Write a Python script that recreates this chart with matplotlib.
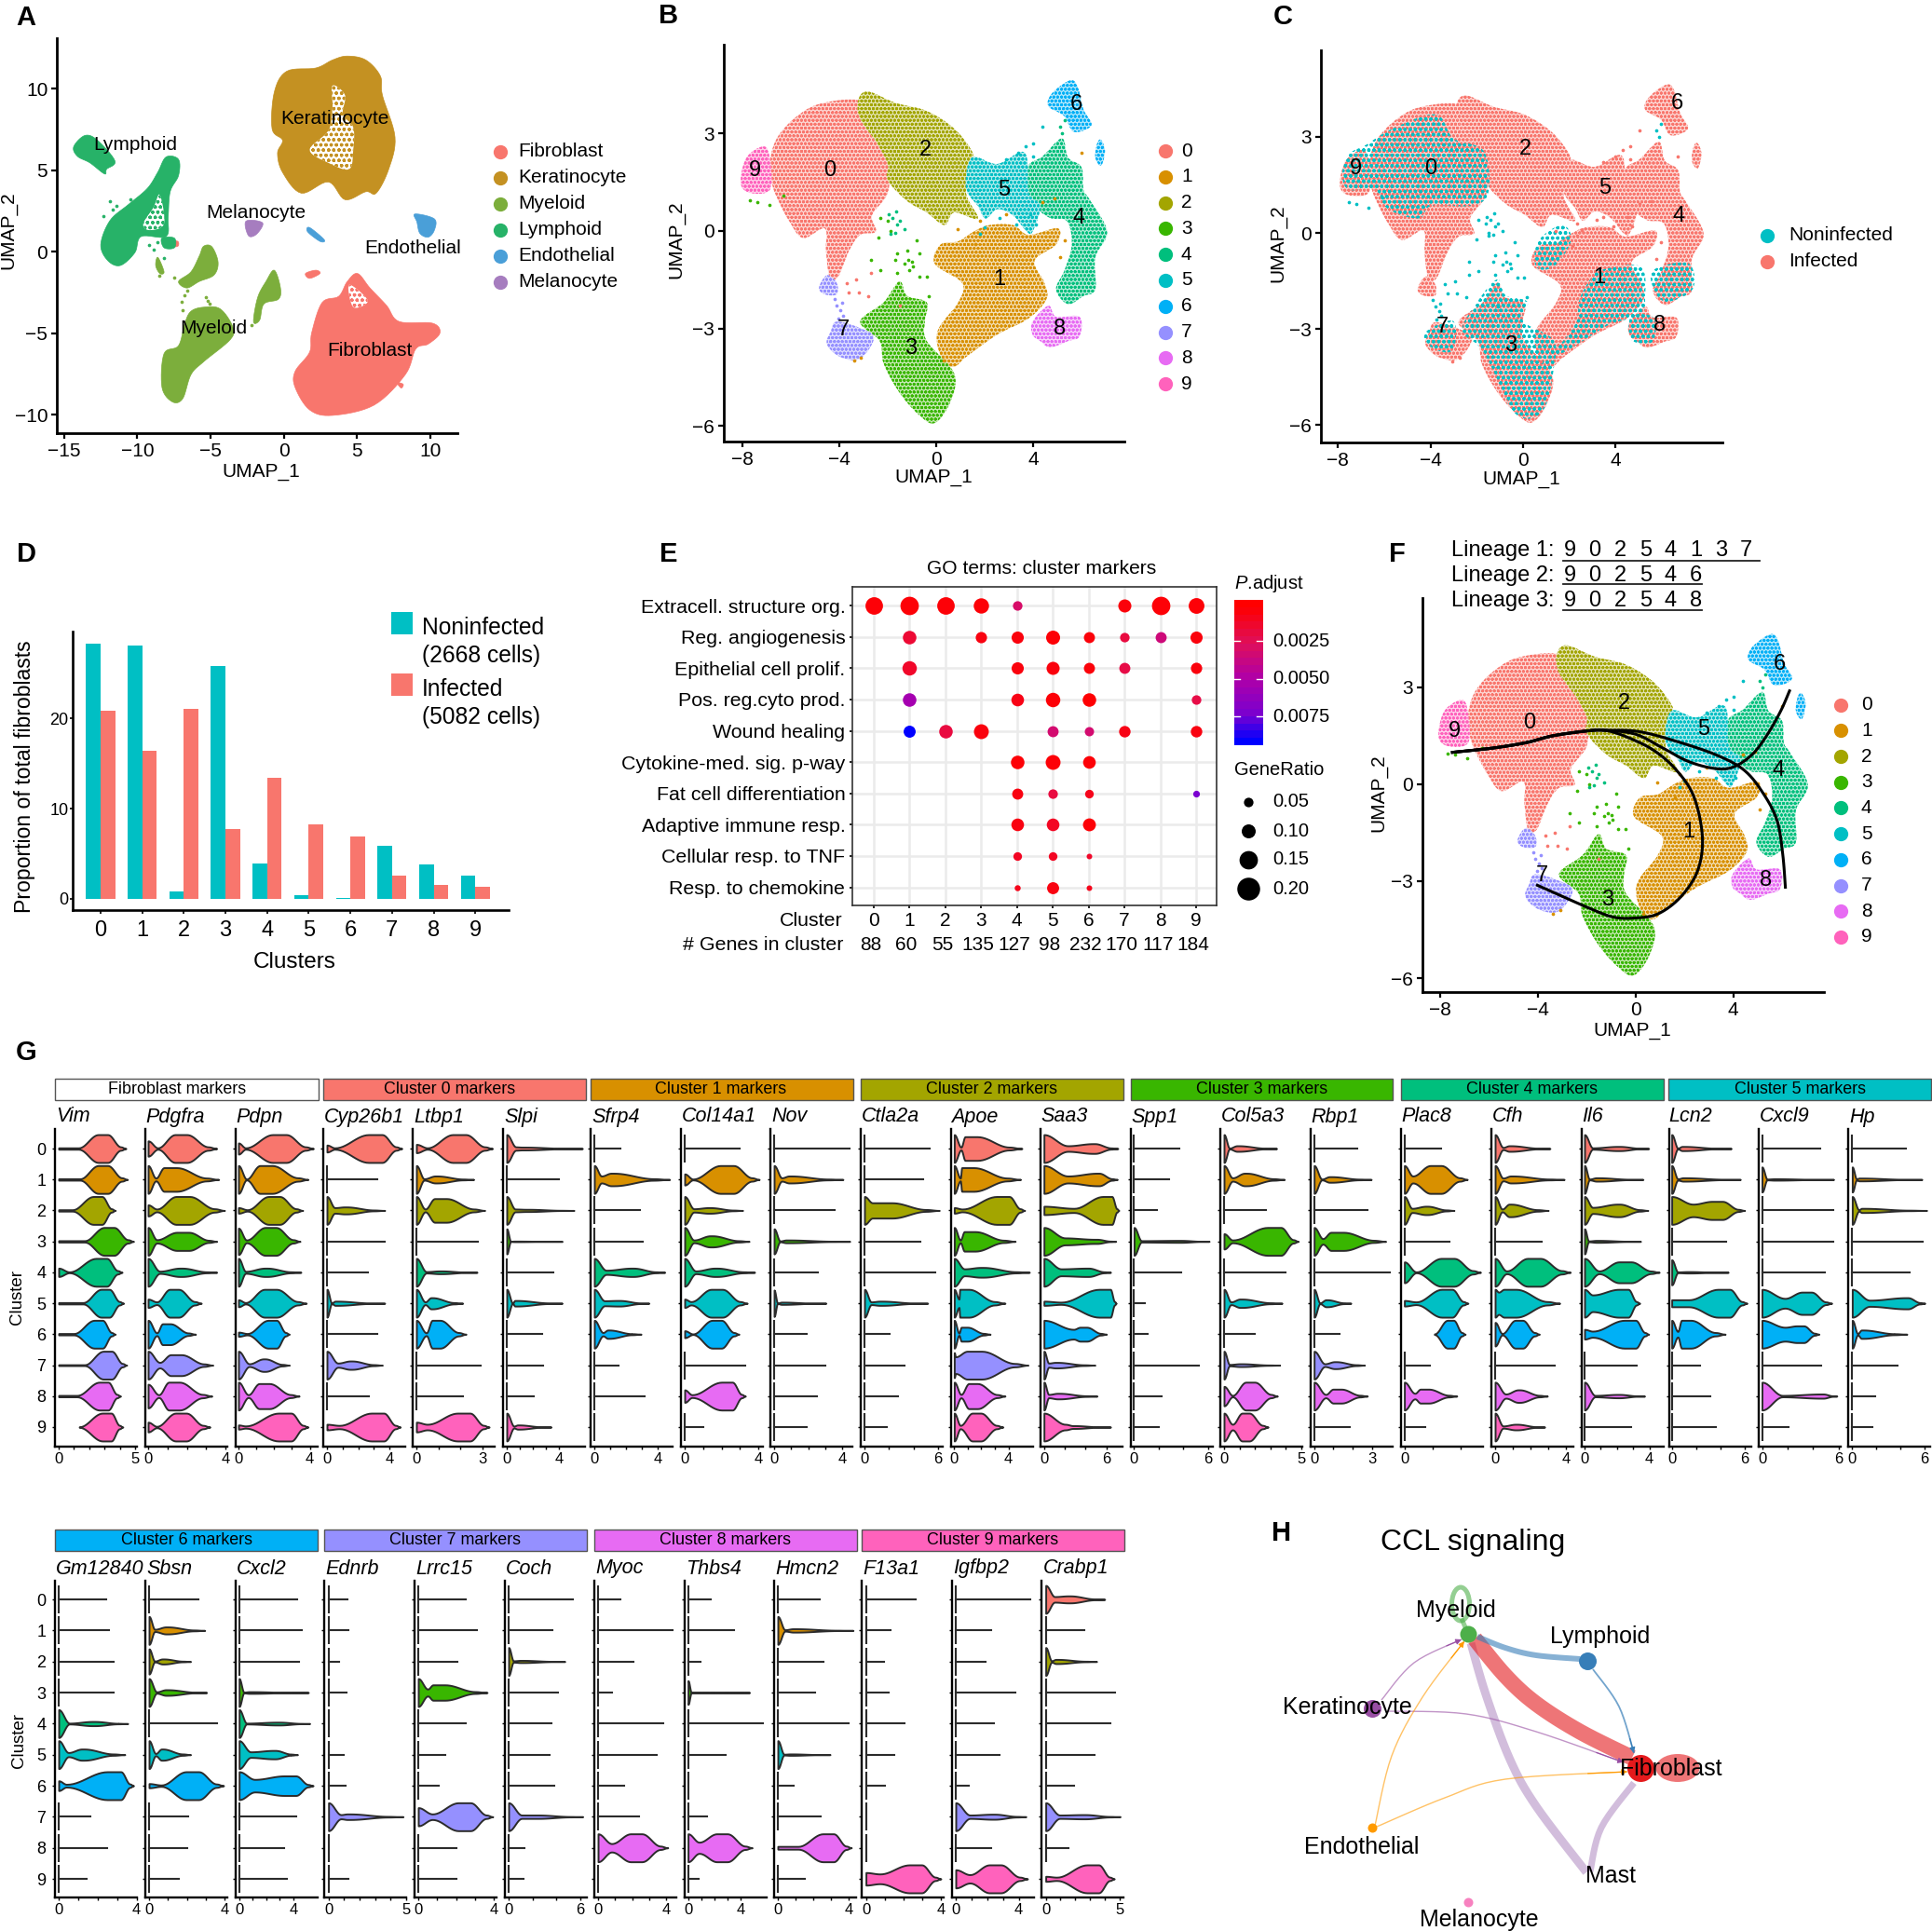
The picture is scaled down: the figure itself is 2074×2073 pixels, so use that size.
import numpy as np
import matplotlib
matplotlib.use("Agg")
import matplotlib.pyplot as plt
from matplotlib.colors import LinearSegmentedColormap, Normalize, to_rgb
from matplotlib.patches import Polygon, Rectangle, Ellipse

plt.rcParams['font.family'] = ['Liberation Sans', 'DejaVu Sans']
plt.rcParams['mathtext.fontset'] = 'custom'
plt.rcParams['mathtext.it'] = 'Liberation Sans:italic'
plt.rcParams['mathtext.rm'] = 'Liberation Sans'
plt.rcParams['hatch.linewidth'] = 1.0

W, H = 2074, 2073

HUE = ['#F8766D', '#D89000', '#A3A500', '#39B600', '#00BF7D',
       '#00BFC4', '#00B0F6', '#9590FF', '#E76BF3', '#FF62BC']
TEAL, SALMON = '#00BFC4', '#F8766D'

# panel A: outlines of the cell types on the UMAP
celltypes = ['Fibroblast', 'Keratinocyte', 'Myeloid', 'Lymphoid', 'Endothelial', 'Melanocyte']
celltype_cols = ['#F8766D', '#C49122', '#7CAE3C', '#27B268', '#4A9FD8', '#A67DBF']
fibroblast_a = [
    [(5.03,-1.34),(5.88,-2.23),(7.02,-3.31),(7.87,-4.29),(10.14,-4.39),(10.66,-4.99),(9.86,-5.67),(9.01,-5.97),
     (8.3,-7.54),(6.16,-9.42),(3.32,-10.05),(1.76,-9.71),(.77,-8.33),(.77,-7.35),(1.76,-6.17),(1.9,-4.99),
     (2.61,-3.13),(3.75,-2.74),(4.32,-1.85)],
    [(1.48,-1.34),(2.19,-1.14),(2.47,-1.34),(1.76,-1.64)],
    [(7.73,-8.04),(8.15,-8.14),(8.01,-8.37)],
    [(-7.76,.63),(-7.24,.63),(-7.24,.33),(-7.76,.33)]]
keratinocyte_a = [
    [(4.32,12.0),(5.6,11.76),(6.59,10.78),(6.73,9.6),(7.59,7.03),(7.16,5.06),(6.31,3.59),(5.6,3.68),(4.18,3.19),
     (3.04,4.28),(1.19,3.59),(-.09,4.87),(-.43,6.05),(-.09,6.84),(-.8,7.53),(-.65,9.79),(.2,11.07),(2.19,11.27),
     (3.32,11.76)]]
myeloid_a = [
    [(-5.48,-3.41),(-4.35,-3.51),(-3.5,-4.59),(-3.64,-5.38),(-5.48,-6.76),(-6.34,-7.55),(-6.9,-9.02),(-7.61,-9.22),
     (-8.32,-8.33),(-8.18,-6.26),(-7.19,-5.77),(-6.76,-4.39),(-6.34,-3.66)],
    [(-.65,-1.14),(-.23,-2.23),(-.37,-2.92),(-1.36,-3.21),(-1.65,-4.2),(-2.07,-4.3),(-1.79,-2.82),(-1.22,-1.83)],
    [(-5.48,.33),(-4.91,.3),(-4.49,-.65),(-4.77,-1.44),(-5.77,-1.83),(-6.62,-2.23),(-7.19,-1.83),(-6.34,-1.24),(-5.77,-.26)],
    [(-8.6,-.35),(-8.18,-1.24),(-8.47,-1.34),(-8.75,-.85)]]
lymphoid_a = [
    [(-13.58,7.13),(-12.73,6.84),(-11.53,5.56),(-12.1,5.06),(-12.24,4.77),(-13.24,5.45),(-14.09,5.85),(-14.35,6.44)],
    [(-8.04,5.81),(-7.19,5.66),(-7.19,4.67),(-7.76,3.68),(-7.9,2.12),(-8.04,.93),(-9.74,.93),(-10.17,-.06),
     (-11.16,-.85),(-12.02,-.55),(-12.5,.43),(-11.87,1.91),(-10.6,2.9),(-9.32,3.88),(-8.61,4.87)],
    [(-8.33,.83),(-7.47,.83),(-7.47,.24),(-8.18,.24)]]
endothelial_a = [
    [(8.95,2.31),(10.28,2.01),(10.28,1.32),(9.86,.89),(9.29,1.12),(9.09,1.81)],
    [(1.76,1.48),(2.76,.73),(2.47,.63),(1.62,1.22)]]
melanocyte_a = [[(-2.59,1.87),(-1.45,1.77),(-1.85,1.08),(-2.41,.97)]]
holes_a = [
    [(3.32,10.19),(4.18,9.6),(4.03,8.42),(4.74,7.63),(4.74,6.25),(4.46,5.06),(3.04,5.45),(1.76,6.25),(3.04,7.43),(3.32,8.8)],
    [(-8.47,3.49),(-8.18,1.71),(-9.18,1.32),(-9.6,1.71),(-8.9,2.71)],
    [(4.46,-2.03),(5.74,-3.01),(4.74,-3.41)]]
hole_owner_a = [1, 3, 0]
labels_a = [('Fibroblast',5.88,-6.07),('Keratinocyte',3.47,8.18),('Myeloid',-4.77,-4.69),
            ('Lymphoid',-10.17,6.58),('Endothelial',8.78,.18),('Melanocyte',-1.88,2.4)]
myeloid_dots_a = [(-6.6,-2.4),(-6.8,-2.7),(-7,-3.1),(-5.3,-2.8),(-5.2,-3.0),(-6.9,-3.6),(-5.1,-3.2),(-2.2,-4.5),(-8.5,-1.5),(-7.5,-1.6)]
lymphoid_dots_a = [(-11.9,3.1),(-11.7,2.6),(-11.4,2.8),(-11,2.4),(-10.5,3.2),(-12.3,2.2),(-9.2,.4),(-8.9,.1),(-8.2,-.4),(-8.6,.6)]

# panels B, C, F: outlines of the fibroblast clusters on the UMAP
cluster0 = [[(-3.22,4.02),(-4.76,3.92),(-5.73,3.54),(-6.54,2.9),(-6.86,2.16),(-6.78,1.47),(-6.54,.97),(-6.05,.28),
             (-5.49,-.22),(-4.6,.08),(-4.55,-.61),(-4.4,-1.41),(-4.05,-1.41),(-3.6,-.61),(-3.14,-.12),(-2.49,-.02),(-2.65,.48),
             (-2.0,1.17),(-2.0,2.06),(-2.49,2.75),(-3.14,3.45)]]
cluster1 = [[(2.2,.18),(3.17,.18),(3.82,-.12),(5.03,.08),(4.95,-.42),(4.06,-.91),(4.47,-1.6),(4.55,-2.1),(3.82,-2.69),
             (2.52,-3.19),(1.23,-3.88),(.74,-4.18),(.26,-3.98),(.05,-3.1),(.91,-2.2),(1.07,-1.6),(-.06,-1.01),
             (.18,-.42),(.91,-.32),(1.55,-.02)]]
cluster2 = [[(-2.82,4.29),(-1.68,3.94),(-.39,3.69),(.74,3.15),(1.47,2.46),(1.47,2.16),(1.23,1.17),(1.72,.38),(.74,.57),
             (.34,.18),(-.39,.57),(-1.2,.92),(-2.0,1.56),(-2,2.06),(-2.49,2.75),(-3.14,3.45),(-3.22,4.02)]]
cluster3 = [[(-1.52,-1.55),(-1.2,-2.0),(-.39,-2.2),(-.47,-2.79),(-.39,-3.39),(.74,-4.38),(.58,-5.27),(-.06,-5.91),
             (-.71,-5.66),(-1.52,-4.97),(-2.17,-4.08),(-2.33,-3.39),(-3.14,-2.79),(-2.17,-2.2)]]
cluster4 = [[(5.19,2.85),(5.44,2.26),(6.0,1.96),(6.08,1.27),(6.33,.97),(7.06,-.02),(6.57,-.81),(6.57,-1.8),(6.08,-2.0),
             (5.44,-2.25),(4.95,-1.8),(5.3,-1.21),(5.6,-.42),(5.4,.3),(4.7,.4),(4.1,.75),(3.75,1.3),(3.8,2.0),(4.4,2.3)]]
cluster5 = [[(1.47,2.26),(2.52,2.06),(3.66,2.41),(3.82,1.17),(4.3,.77),(3.98,-.02),(3.74,-.02),(3.17,.48),(2.52,.67),
             (2.04,.38),(1.72,.77),(1.23,1.32)]]
cluster6 = [[(5.52,4.63),(5.84,4.44),(6.08,3.74),(6.41,3.25),(5.68,3.05),(5.28,3.54),(4.63,3.84),(4.79,4.24)],
            [(6.81,2.8),(6.97,2.46),(6.81,2.01),(6.57,2.26),(6.65,2.7)]]
cluster7 = [[(-4.51,-1.36),(-4.11,-1.6),(-4.11,-1.95),(-4.6,-1.95),(-4.84,-1.75)],
            [(-4.11,-2.79),(-3.14,-2.99),(-2.57,-3.29),(-3.14,-3.93),(-3.95,-3.88),(-4.51,-3.49),(-4.35,-3.09)]]
cluster8 = [[(4.63,-2.3),(4.95,-2.64),(5.92,-2.64),(5.92,-3.24),(5.44,-3.39),(4.71,-3.58),(4.3,-3.39),(3.98,-3.19),(3.98,-2.79)]]
cluster9 = [[(-7.1,2.6),(-6.86,2.16),(-6.86,1.27),(-7.67,1.17),(-8.07,1.47),(-7.83,2.26)]]
clusters = [cluster0, cluster1, cluster2, cluster3, cluster4, cluster5, cluster6, cluster7, cluster8, cluster9]

# scattered single cells between the clusters
sparse_green = [(-2.3,.4),(-2.0,.3),(-1.9,.0),(-2.4,-.2),(-1.6,-.7),(-1.2,-.6),(-.8,-.3),(-.7,-.7),(-1.3,-1.0),(-1.1,-1.2),
                (-.95,-1.1),(-.7,-1.4),(-1.6,-1.3),(-2.3,-1.2),(-2.7,-.9),(-1.0,-.95),(-.4,-1.4),(-.3,-2.0),(-1.7,-.9),
                (-1.15,-.9),(-7.7,.95),(-7.4,.9),(-6.9,.8),(-6.3,1.1)]
sparse_mint = [(-1.8,.4),(-1.6,.2),(-1.7,-.05),(-1.9,-.1),(-1.5,.3),(-1.65,.6),(-1.95,.5),(-1.3,.05),(5.1,3.2),(5.3,3.4),(5.2,3.0)]
sparse_teal = [(2.9,2.2),(3.4,2.4),(4.0,2.7),(4.4,3.2),(4.0,2.3),(3.7,2.6),(3.9,.5),(4.1,.2),(2.0,.1),(1.8,-.1),(2.6,.4),(3.3,.2)]
sparse_orange = [(.3,-4.0),(1.6,-.4),(4.9,1.0),(4.4,.9),(6.0,2.4),(-3.4,-4.0),(-3.1,-3.9),(5.1,-.8),(5.3,-.3),(.9,.05),(1.8,.3),(2.9,.5)]
sparse_salmon = [(-3.6,-1.9),(-3.2,-1.9),(-2.8,-2.0),(-3.7,-1.6),(-1.5,-2.3),(-3.3,-1.5),(-2.7,-1.3)]
sparse_violet = [(-4.2,-2.1),(-4.1,-2.3),(-3.95,-2.45),(-3.85,-2.6),(-3.9,-2.2),(-4.05,-2.7)]

labels_b = [(-4.4,1.85),(2.6,-1.5),(-.45,2.5),(-1.05,-3.6),(5.9,.4),(2.8,1.27),(5.8,3.9),(-3.85,-3.05),(5.1,-3.0),(-7.5,1.85)]
labels_c = [(-3.99,2.0),(3.29,-1.4),(.09,2.63),(-.53,-3.53),(6.73,.53),(3.53,1.4),(6.64,4.03),(-3.49,-2.93),(5.89,-2.87),(-7.21,2.0)]
labels_f = [(-4.37,1.88),(2.16,-1.49),(-.46,2.5),(-1.16,-3.58),(5.87,.41),(2.78,1.7),(5.9,3.7),(-3.83,-2.83),(5.33,-2.98),(-7.42,1.64)]

# panel C: where the noninfected cells sit
noninf_zones = [
    [(-6.78,2.75),(-5.65,3.25),(-3.77,3.7),(-3.01,2.95),(-1.69,2.55),(-1.5,1.25),(-2.26,.85),(-3.95,.85),(-4.52,.45),
     (-5.84,.75),(-6.4,1.35),(-7.53,1.35),(-7.81,1.85),(-7.53,2.45)],
    [(3.39,-1.15),(5.08,-1.05),(5.27,-2.05),(5.08,-2.55),(3.76,-2.85),(2.63,-3.35),(1.69,-3.75),(1.32,-3.75),(2.26,-2.85),
     (2.45,-2.05),(3.0,-1.35)],
    [(4.7,-2.55),(5.64,-2.65),(5.64,-3.35),(5.08,-3.45),(4.61,-3.25)],
    [(5.64,-1.15),(7.14,-.95),(7.33,-1.75),(6.2,-2.15),(5.64,-1.75)],
    [(-1.13,-1.45),(-.75,-1.95),(.19,-2.15),(0,-2.75),(1.32,-3.35),(1.32,-4.25),(.94,-5.45),(.19,-5.8),(-.56,-5.45),
     (-1.32,-4.25),(-1.88,-3.55),(-2.63,-3.05),(-2.07,-2.25)],
    [(-4.14,-3.05),(-3.01,-2.75),(-3.01,-3.65),(-3.77,-3.65),(-4.23,-3.35)],
    [(.66,-.25),(1.69,.25),(2.07,-.25),(1.32,-1.05),(.56,-1.05)]]

# panel D
bar_clusters = list(range(10))
noninfected = [28.3, 28.1, 0.8, 25.8, 3.9, 0.4, 0.05, 5.9, 3.8, 2.6]
infected = [20.8, 16.4, 21.0, 7.7, 13.4, 8.2, 6.9, 2.6, 1.5, 1.3]

# panel E, columns are the clusters 0 to 9
go_terms = ['Extracell. structure org.', 'Reg. angiogenesis', 'Epithelial cell prolif.', 'Pos. reg.cyto prod.',
            'Wound healing', 'Cytokine-med. sig. p-way', 'Fat cell differentiation', 'Adaptive immune resp.',
            'Cellular resp. to TNF', 'Resp. to chemokine']
genes_in_cluster = [88, 60, 55, 135, 127, 98, 232, 170, 117, 184]
n = None
gene_ratio = [
    [.14, .15, .14, .115, .05, n, n, .09, .15, .12],
    [n, .095, n, .07, .08, .10, .067, .05, .067, .08],
    [n, .105, n, n, .08, .09, .067, .067, n, .07],
    [n, .095, n, n, .085, .105, .095, n, n, .05],
    [n, .078, .095, .11, n, .067, .047, .072, n, .072],
    [n, n, n, n, .095, .11, .085, n, n, n],
    [n, n, n, n, .067, .05, .04, n, n, .018],
    [n, n, n, n, .085, .085, .088, n, n, n],
    [n, n, n, n, .04, .04, .005, n, n, n],
    [n, n, n, n, .01, .078, .005, n, n, n]]
p_adjust = [
    [.0002, .0002, .0002, .0002, .003, n, n, .0003, .0002, .0002],
    [n, .0015, n, .0005, .0004, .0002, .0003, .0018, .0035, .0004],
    [n, .0012, n, n, .0004, .0004, .0003, .002, n, .0004],
    [n, .0055, n, n, .0006, .0002, .0001, n, n, .002],
    [n, .0094, .0018, .0004, n, .0032, .0032, .0006, n, .0005],
    [n, n, n, n, .0002, .0002, .0002, n, n, n],
    [n, n, n, n, .0005, .0018, .0008, n, n, .0075],
    [n, n, n, n, .0005, .001, .0002, n, n, n],
    [n, n, n, n, .001, .001, .0012, n, n, n],
    [n, n, n, n, .0008, .0005, .0008, n, n, n]]
ratio_legend = [0.05, 0.10, 0.15, 0.20]

# panel F: the three lineages
lineage_stem = [(-7.5,.98),(-5.87,1.11),(-4.48,1.28),(-3.4,1.49),(-2.01,1.64),(-1.24,1.66)]
lineage1 = [(-.31,1.44),(.77,1.03),(1.7,.41),(2.4,-.41),(2.74,-1.64),(2.55,-2.67),(1.85,-3.49),(.93,-4.01),(0,-4.14),
            (-.93,-4.11),(-2.01,-3.8),(-3.09,-3.44),(-4.02,-3.13)]
lineage2 = [(0,1.54),(1.08,1.13),(2.16,.7),(3.25,.48),(4.02,.53),(4.79,.92),(5.41,1.54),(5.95,2.26),(6.31,2.88)]
lineage3 = [(.15,1.62),(1.85,1.28),(3.4,.87),(4.48,.41),(5.25,-.31),(5.8,-1.13),(6.03,-2.16),(6.14,-3.19)]
lineage_orders = [['9','0','2','5','4','1','3','7'], ['9','0','2','5','4','6'], ['9','0','2','5','4','8']]

# panel G. One entry per cluster: a plain number is a violin that is only a line up to that value;
# a tuple is (end, height at 0, valley x, valley height, peak x, peak height[, start x])
Vim = [(4.4,.05,1.3,.05,2.9,1),(4.5,.05,1.4,.05,2.9,1),(3.7,.05,.9,.05,2.55,1),(4.9,.05,1.7,.05,3.3,1),(4.15,.3,.7,.03,2.8,1),
       (4.25,.05,1.6,.05,3.05,1),(3.7,.05,1.0,.05,2.6,1),(4.45,.03,1.7,.03,3.2,1),(4.05,.05,1.2,.05,2.95,1),(4.2,.1,1.35,.1,3.15,1,1.35)]
Pdgfra = [(3.55,.55,.5,.05,1.7,1),(3.65,1,.4,.1,1.15,.85),(3.95,.4,.45,.1,1.8,1),(3.55,1,.45,.12,1.8,.65),(3.55,1,.6,.08,1.7,.3),
          (2.75,.3,.45,.1,1.35,1),(2.45,1,.45,.1,.95,.75),(3.35,1,.6,.2,1.45,.75),(3.3,.85,.55,.1,1.35,1),(3.2,.35,.45,.05,1.7,1)]
Pdpn = [(4.2,.4,.4,.05,2.3,1),(3.9,1,.45,.03,1.55,1),(3.6,.2,.5,.05,2.0,1),(3.45,.95,.45,.1,1.8,1),(3.5,1,.4,.07,1.55,.3),
        (3.8,.25,.4,.05,1.8,1),(2.85,.15,.5,.05,1.9,1),(2.85,1,.6,.1,1.45,.45),(3.4,1,.55,.1,1.45,.9),(3.9,.15,.4,.08,2.6,1)]
Cyp26b1 = [(4.8,.25,.5,.05,3.1,1),3.2,(3.7,1,.5,.2,1.2,.25),3.7,2.6,(3.7,1,.3,.03,.6,.15),3.25,(3.55,1,.7,.15,1.55,.3),2.7,(4.7,.2,.8,.12,3.25,1)]
Ltbp1 = [(3.45,.3,.5,.05,1.95,1),(2.6,1,.35,.05,.9,.25),(3.1,1,.4,.1,1.1,.85),2.8,(2.75,1,.45,.05,1.1,.1),(2.1,1,.4,.1,.7,.4),
         (2.25,1,.45,.1,.9,1),2.9,2.1,(3.3,.35,.5,.2,2.15,1)]
Slpi = [(5.8,1,.7,.12,1.3,.1),4.0,(5.15,1,.65,.1,1.6,.08),(4.25,.9,.3,.01,.7,.02),3.6,(4.25,1,.45,.02,.7,.2),2.7,2.75,2.1,(3.4,1,.55,.07,.9,.15)]
Sfrp4 = [1.65,(4.75,1,.45,.25,1.15,.45),2.9,3.05,(4.45,1,.75,.15,2.4,.3),(3.45,1,.65,.18,1.55,.2),(2.95,1,.55,.12,.9,.3),1.55,3.2,0]
Col14a1 = [3.0,(4.05,.4,.45,.03,2.3,1),(3.15,1,.5,.12,1.35,.2),(3.5,1,.5,.1,1.45,.4),(3.8,1,.6,.1,1.7,.3),(3.4,.3,.35,.12,1.75,1),
           (2.95,.25,.45,.02,1.75,1),3.3,(3.3,.45,.4,.1,2.3,1),1.0]
Nov = [4.45,(4.05,1,.45,.12,.95,.25),3.55,(4.45,.9,.35,.03,.8,.1),2.55,(3.05,.95,.2,.02,.5,.08),1.9,3.0,2.5,1.9]
Ctla2a = [5.3,4.75,(6.1,1,.65,.55,1.7,.55),4.55,5.8,(5.15,1,.55,.1,1.35,.15),2.05,3.3,2.75,1.85]
Apoe = [(5.0,1,.5,.1,1.25,.85),(4.9,1,.45,.1,1.0,.85),(5.2,.2,.6,.1,3.6,1),(4.5,1,.45,.1,1.15,.7),(5.55,1,.75,.25,2.05,.35),
        (3.75,1,.35,.3,.75,1),(2.65,1,.35,.08,.75,.5),(5.45,.9,.1,.6,1.5,1),(3.75,1,.5,.12,1.4,.9),(3.6,1,.45,.12,1.65,1)]
Saa3 = [(7.1,1,2.3,.2,4.8,.35),(7.05,1,2.3,.25,5.2,.45),(7.2,.3,2.9,.15,6.1,1),(6.9,1,2.05,.25,5.0,.15),(6.4,1,1.65,.25,4.2,.3),
        (6.95,.15,1.65,.08,5.85,1),(6.0,1,2.85,.35,3.8,.5),(4.9,1,.45,.15,1.2,.2),(5.1,1,.45,.12,1.4,.2),(6.4,1,2.05,.2,2.9,.1)]
Spp1 = [3.7,2.85,1.85,(6.1,1,.6,.05,3.7,.07),3.85,.9,1.1,5.25,2.25,2.05]
Col5a3 = [(3.4,1,.35,.03,.9,.2),(3.9,1,.55,.12,1.4,.45),2.7,(4.8,.55,.55,.1,3.25,1),3.95,(3.75,1,.45,.1,1.1,.3),2.0,
          (3.6,1,.35,.05,1.1,.1),(3.45,.7,.55,.05,1.7,1),(2.85,1,.55,.2,1.4,1)]
Rbp1 = [2.25,(2.95,1,.4,.03,.85,.2),2.75,(3.7,1,.45,.2,1.2,.65),3.9,(1.9,1,.3,.03,.65,.25),1.3,(2.6,1,.55,.1,1.1,.25),(2.75,1,.6,.12,1.2,.5),1.85]
Plac8 = [2.65,(4.5,1,.6,.25,2.25,1),(3.55,1,.55,.15,1.6,.3),3.25,(5.45,.75,.85,.03,3.1,1),(4.55,.2,.85,.1,3.05,1),(4.35,.1,2.15,.1,3.3,1,2.15),
         1.85,(3.75,1,.75,.2,1.45,.5),1.5]
Cfh = [(3.1,1,.45,.08,.85,.2),(3.9,1,.45,.1,.95,.25),(3.0,1,.4,.1,.85,.45),2.65,(4.25,1,.65,.1,2.2,1),(3.65,1,.2,.8,.85,1),
       (2.5,.85,.4,.05,1.35,1),3.35,(2.95,1,.6,.15,1.35,.45),(2.8,1,.45,.08,1.2,.2)]
Il6 = [(3.95,1,.5,.05,2.1,.15),(3.6,1,.3,.03,.8,.12),(3.9,1,.5,.22,2.1,.45),(3.45,.9,.25,.03,.8,.07),(4.6,1,.9,.1,2.5,.75),
       (3.4,1,.5,.6,2.4,1),(3.95,.35,.5,.22,2.8,1),3.2,(3.7,1,.65,.05,2.1,.12),2.85]
Lcn2 = [(4.9,1,.5,.03,.95,.15),(5.65,1,.5,.05,1.05,.12),(6.0,1,1.75,.45,3.75,.65),4.5,(4.65,.9,.5,.03,1.4,.05),(6.2,.25,1.4,.25,4.3,1),
        (4.4,1,.5,.2,1.2,1),2.35,3.2,3.6]
Cxcl9 = [4.55,(5.6,.9,.4,.03,1.1,.05),5.55,5.6,4.9,(5.45,1,1.8,.35,3.5,.8),(4.45,1,1.8,.5,3.0,.6),4.6,(5.85,1,1.6,.05,4.7,.15),2.1]
Hp = [4.5,(5.8,.9,.35,.05,.7,.1),(6.2,1,.55,.05,.9,.15),5.9,4.8,(6.05,1,1.45,.22,4.55,.4),(4.55,1,.45,.05,.85,.3),3.75,1.9,1.7]
Gm12840 = [2.45,2.6,2.85,2.85,(3.55,1,.55,.03,1.8,.15),(3.4,1,.5,.15,1.25,.4),(3.85,.35,.4,.1,2.85,1),1.65,2.5,1.45]
Sbsn = [2.6,(2.95,1,.3,.08,.95,.25),(2.2,.9,.3,.03,.75,.18),(3.05,1,.4,.05,.95,.2),3.6,(2.2,1,.35,.08,.7,.4),(3.95,.15,.65,.05,2.3,1),2.05,2.0,1.6]
Cxcl2 = [4.25,4.6,4.4,(5.1,1,.35,.03,.85,.06),(5.2,1,.55,.03,2.9,.1),(4.3,1,.85,.2,2.6,.3),(5.45,1,1.15,.45,3.75,.7),4.2,3.3,3.5]
Ednrb = [1.2,1.3,.7,1.15,0,1.0,1.1,(4.8,1,.8,.15,1.3,.2),0,1.3]
Lrrc15 = [2.5,3.1,2.05,(3.65,1,.5,.25,1.1,.55),2.5,1.45,1.1,(3.95,.65,.75,.2,2.45,1),2.0,2.0]
Coch = [5.4,3.7,(4.7,1,.4,.05,1.1,.08),4.1,3.55,3.45,3.8,(6.2,1,1.1,.12,2.4,.12),1.35,1.25]
Myoc = [1.3,4.4,2.1,.8,3.85,3.45,1.55,2.4,(4.1,1,.8,.3,2.25,1),0]
Thbs4 = [1.75,3.55,.95,(4.7,.85,.25,.02,1.1,.03),5.7,2.85,0,1.45,(4.9,1,.85,.4,2.6,1),.8]
Hmcn2 = [2.35,(4.25,1,.4,.05,.95,.12),2.6,2.1,4.0,(2.95,1,.35,.03,.75,.05),.9,2.4,(4.15,.1,1.15,.1,2.85,1),1.55]
F13a1 = [2.65,1.3,.95,1.2,2.05,1.5,1.0,0,0,(4.0,.45,.75,.35,2.65,1)]
Igfbp2 = [4.75,2.25,1.9,3.8,2.45,2.75,.85,(4.45,1,.9,.12,2.4,.18),2.25,(4.55,.65,.9,.3,2.5,1)]
Crabp1 = [(4.0,1,.6,.2,1.6,.25),2.6,(3.45,1,.4,.05,.75,.15),4.7,4.4,3.3,1.9,(5.05,1,.95,.12,2.6,.15),1.55,(4.65,.18,.75,.12,3.2,1)]

# (name, values, highest tick, pixel of the left spine, of the 0 tick, of the highest tick)
genes_top = [('Vim',Vim,5,59,63,145),('Pdgfra',Pdgfra,4,156,159,242),('Pdpn',Pdpn,4,252.7,256,332.6),
             ('Cyp26b1',Cyp26b1,4,347,351,418),('Ltbp1',Ltbp1,3,443,447,518),('Slpi',Slpi,4,540,544,600),
             ('Sfrp4',Sfrp4,4,634,638,706),('Col14a1',Col14a1,4,731,735,814),('Nov',Nov,4,827,831,904),
             ('Ctla2a',Ctla2a,6,924,928,1007),('Apoe',Apoe,4,1020.7,1024.4,1082.5),('Saa3',Saa3,6,1117,1120.7,1187.7),
             ('Spp1',Spp1,6,1213.7,1217.4,1296.7),('Col5a3',Col5a3,5,1310,1314,1397),('Rbp1',Rbp1,3,1407,1410.7,1473),
             ('Plac8',Plac8,6,1504,1507.6,1597.6),('Cfh',Cfh,4,1601,1605,1681),('Il6',Il6,4,1698,1701,1770.7),
             ('Lcn2',Lcn2,6,1792,1794.6,1872.8),('Cxcl9',Cxcl9,6,1888,1891.5,1973.9),('Hp',Hp,6,1984,1988.4,2065.7)]
genes_bottom = [('Gm12840',Gm12840,4,59,63,146.5),('Sbsn',Sbsn,4,155.7,160,241),('Cxcl2',Cxcl2,4,252.5,256.7,315),
                ('Ednrb',Ednrb,5,348,352.7,436),('Lrrc15',Lrrc15,4,445,449,530),('Coch',Coch,6,541.7,546,623),
                ('Myoc',Myoc,4,637.8,642,715),('Thbs4',Thbs4,4,734.7,738.6,794.8),('Hmcn2',Hmcn2,4,830.8,835,911),
                ('F13a1',F13a1,4,925,929.6,1010),('Igfbp2',Igfbp2,4,1021.7,1026,1093.7),('Crabp1',Crabp1,5,1118,1122.6,1201.7)]
strips_top = ['Fibroblast markers'] + ['Cluster %d markers' % i for i in range(6)]
strips_top_px = [(59,341.5),(347,628.6),(634,916),(924,1205.6),(1214,1495),(1504,1786),(1791,2073)]
strips_top_cols = ['white'] + HUE[:6]
strips_top_shift = [-10, -5, -1, 0, 0, 0, 0]
strips_bottom = ['Cluster %d markers' % i for i in range(6, 10)]
strips_bottom_px = [(59,341),(348,630),(638,920),(925,1207)]
strips_bottom_shift = [0, 0, 0, 0]

# panel H: the network, in pixels of the picture
node_names = ['Myeloid', 'Lymphoid', 'Keratinocyte', 'Fibroblast', 'Endothelial', 'Melanocyte']
node_xy = [(1576,1752), (1704,1781), (1473,1832), (1761,1896), (1473,1960), (1576,2040)]
node_cols = ['#4DAF4A', '#377EB8', '#984EA3', '#E41A1C', '#FF9A00', '#F781BF']
node_size = [18, 19, 19, 29, 10, 10]
node_label_xy = [(1563,1727), (1718,1755), (1446,1831), (1794,1897), (1462,1981), (1588,2059)]
edges = [([(1579,1762),(1595,1817),(1621,1887),(1649,1937),(1703,2008)], '#CAB2D6', 9, 0.85, False),
         ([(1707,2007),(1719,1960),(1754,1912)], '#CAB2D6', 7, 0.85, False),
         ([(1583,1757),(1616,1797),(1649,1827),(1696,1857),(1752,1885)], '#E41A1C', 17, 0.6, False),
         ([(1696,1779),(1649,1775),(1616,1767),(1586,1755)], '#377EB8', 6, 0.6, False),
         ([(1710,1790),(1738,1830),(1754,1880)], '#377EB8', 1.8, 0.7, True),
         ([(1483,1823),(1518,1783),(1569,1758)], '#984EA3', 1.4, 0.6, True),
         ([(1490,1835),(1574,1838),(1649,1857),(1743,1890)], '#984EA3', 1.4, 0.6, True),
         ([(1476,1958),(1494,1883),(1527,1820),(1572,1760)], '#FF9A00', 1.4, 0.6, True),
         ([(1478,1959),(1551,1928),(1616,1908),(1747,1900)], '#FF9A00', 1.4, 0.6, True)]


def px_axes(l, t, r, b):
    return fig.add_axes([l / W, 1 - b / H, (r - l) / W, (b - t) / H])


def smooth(pts, closed=False, k=8):
    p = np.asarray(pts, float)
    if closed:
        p = np.vstack([p[-1], p, p[0], p[1]])
    else:
        p = np.vstack([p[0], p, p[-1]])
    out = []
    for i in range(1, len(p) - 2):
        t = np.linspace(0, 1, k, endpoint=False)[:, None]
        a, b, c, d = p[i - 1], p[i], p[i + 1], p[i + 2]
        out.append(0.5 * (2 * b + (c - a) * t + (2 * a - 5 * b + 4 * c - d) * t ** 2 + (3 * b - a - 3 * c + d) * t ** 3))
    out.append(p[-2][None])
    return np.vstack(out)


def tint(c, f):
    r = np.array(to_rgb(c))
    return tuple(r * f + (1 - f))


def cloud(ax, pts, col, f=0.3, hatch='oooo', sx=1.0, dx=0.0, z=2):
    xy = smooth(pts, closed=True)
    xy[:, 0] = xy[:, 0] * sx + dx
    ax.add_patch(Polygon(xy, closed=True, fc=tint(col, f), ec=col, hatch=hatch, lw=0, zorder=z))


def dots(ax, pts, col, sx=1.0, dx=0.0):
    a = np.array(pts)
    ax.scatter(a[:, 0] * sx + dx, a[:, 1], s=7, color=col, lw=0, zorder=3)


def style_umap(ax, xlim, ylim, xt, yt):
    ax.set_xlim(*xlim)
    ax.set_ylim(*ylim)
    ax.set_xticks(xt)
    ax.set_yticks(yt)
    ax.tick_params(labelsize=15, width=1.6, length=4, pad=3)
    for s in ('top', 'right'):
        ax.spines[s].set_visible(False)
    for s in ('left', 'bottom'):
        ax.spines[s].set_linewidth(2)


def cosine_knots(knots):
    xs, hs = [], []
    for (x0, h0), (x1, h1) in zip(knots[:-1], knots[1:]):
        t = np.linspace(0, 1, 14)
        xs.append(x0 + (x1 - x0) * t)
        hs.append(h0 + (h1 - h0) * (1 - np.cos(np.pi * t)) / 2)
    return np.concatenate(xs), np.concatenate(hs)


def violin(ax, row, spec, col):
    half = 0.45
    dark = '#2b2b2b'
    if not isinstance(spec, tuple):
        ax.plot([0, 0], [row - half, row + half], color=dark, lw=1.5, zorder=3, solid_capstyle='butt')
        if spec:
            ax.plot([0, spec], [row, row], color=dark, lw=1.5, zorder=3)
        return
    end, z, v, vh, p, b = spec[:6]
    start = spec[6] if len(spec) == 7 else v
    # flat top on the wide bodies, narrow tail at the far end
    w = 0.1 * (end - start) if b >= 0.5 else 0.02 * (end - start)
    shoulder = (p + w + 0.72 * (end - p - w), 0.12 * b)
    top = [(p - w, b), (p + w, b)]
    if len(spec) == 7:
        knots = [(start, 0.02)] + top + [shoulder, (end, 0.0)]
    else:
        knots = [(0, z), (v, vh)] + top + [shoulder, (end, 0.0)]
    x, h = cosine_knots(knots)
    ax.fill_between(x, row - h * half, row + h * half, facecolor=col, edgecolor=dark, lw=1.4, zorder=3)


def violin_row(genes, top, bottom, row0, row9):
    step = (row9 - row0) / 9
    for j, (name, vals, tick, spine, x0, xt) in enumerate(genes):
        scale = (xt - x0) / tick
        right = spine + 88
        hi = (right - x0) / scale
        ax = px_axes(spine, top, right, bottom)
        ax.set_xlim((spine - x0) / scale, hi)
        ax.set_ylim((bottom - row0) / step, (top - row0) / step)
        for i, spec in enumerate(vals):
            violin(ax, i, spec, HUE[i])
        tick_step = 2 if tick == 6 else 1
        ticks = [t for t in range(0, tick + 1, tick_step) if t <= hi]
        ax.set_xticks(ticks)
        ax.set_xticklabels([str(t) if t in (0, tick) else '' for t in ticks], fontsize=12)
        ax.set_yticks(range(10))
        ax.set_yticklabels([str(i) for i in range(10)] if j == 0 else [''] * 10, fontsize=13)
        ax.tick_params(axis='x', length=2.5, width=1, pad=2)
        ax.tick_params(axis='y', length=2, width=1, pad=5)
        for s in ('top', 'right'):
            ax.spines[s].set_visible(False)
        for s in ('left', 'bottom'):
            ax.spines[s].set_linewidth(1.7)
        ov.text(x0 - 3, top - 15, name, style='italic', fontsize=15.5, ha='left', va='center')


fig = plt.figure(figsize=(W / 100, H / 100), dpi=100, facecolor='white')
ov = fig.add_axes([0, 0, 1, 1], zorder=20)
ov.set_xlim(0, W)
ov.set_ylim(H - 2, -2)
ov.axis('off')

for letter, x, y in [('A',28,17),('B',718,15),('C',1377,16),('D',28,593),('E',718,593),('F',1500,593),('G',28,1128),('H',1376,1644)]:
    ov.text(x, y, letter, fontsize=21, fontweight='bold', ha='center', va='center')

# A
ax = px_axes(61, 41, 491, 465)
style_umap(ax, (-15.5, 11.85), (-11.14, 13.1), [-15, -10, -5, 0, 5, 10], [-10, -5, 0, 5, 10])
for polys, col in zip([fibroblast_a, keratinocyte_a, myeloid_a, lymphoid_a, endothelial_a, melanocyte_a], celltype_cols):
    for pts in polys:
        ax.add_patch(Polygon(smooth(pts, closed=True), closed=True, fc=col, ec=col, lw=0.5))
for pts, owner in zip(holes_a, hole_owner_a):
    ax.add_patch(Polygon(smooth(pts, closed=True), closed=True, fc='white', ec=celltype_cols[owner], hatch='ooo', lw=0, zorder=2))
dots(ax, myeloid_dots_a, celltype_cols[2])
dots(ax, lymphoid_dots_a, celltype_cols[3])
for name, x, y in labels_a:
    ax.text(x, y, name, fontsize=15, ha='center', va='center', zorder=5)
for i, name in enumerate(celltypes):
    y = 161 + i * 28
    ov.plot([537], [y], 'o', ms=11, color=celltype_cols[i], mew=0)
    ov.text(556, y, name, fontsize=15, va='center')
ov.text(280, 504, 'UMAP_1', fontsize=15, ha='center', va='center')
ov.text(9, 245, 'UMAP_2', fontsize=15, ha='center', va='center', rotation=90)


def cluster_map(ax, labels, sx=1.0, dx=0.0):
    for polys, col in zip(clusters, HUE):
        for pts in polys:
            cloud(ax, pts, col, sx=sx, dx=dx)
    dots(ax, sparse_green, HUE[3], sx, dx)
    dots(ax, sparse_mint, HUE[4], sx, dx)
    dots(ax, sparse_teal, HUE[5], sx, dx)
    dots(ax, sparse_orange, HUE[1], sx, dx)
    dots(ax, sparse_salmon, HUE[0], sx, dx)
    dots(ax, sparse_violet, HUE[7], sx, dx)
    for i, (x, y) in enumerate(labels):
        ax.text(x, y, str(i), fontsize=17, ha='center', va='center', zorder=6)


# B
ax = px_axes(777, 48, 1207, 474)
style_umap(ax, (-8.77, 7.77), (-6.48, 5.73), [-8, -4, 0, 4], [-6, -3, 0, 3])
cluster_map(ax, labels_b)
for i in range(10):
    y = 160 + i * 27.8
    ov.plot([1251], [y], 'o', ms=11, color=HUE[i], mew=0)
    ov.text(1268, y, str(i), fontsize=15, va='center')
ov.text(1002, 511, 'UMAP_1', fontsize=15, ha='center', va='center')
ov.text(726, 255, 'UMAP_2', fontsize=15, ha='center', va='center', rotation=90)

# C
ax = px_axes(1418, 54, 1849, 475)
style_umap(ax, (-8.73, 8.61), (-6.54, 5.7), [-8, -4, 0, 4], [-6, -3, 0, 3])
for polys in clusters:
    for pts in polys:
        cloud(ax, pts, SALMON, sx=1.038, dx=0.47)
for pts in noninf_zones:
    xy = smooth(pts, closed=True)
    ax.add_patch(Polygon(xy, closed=True, fc='none', ec=TEAL, hatch='ooo', lw=0, zorder=3))
dots(ax, sparse_green, TEAL, 1.038, 0.47)
dots(ax, sparse_mint, TEAL, 1.038, 0.47)
dots(ax, sparse_teal, SALMON, 1.038, 0.47)
dots(ax, sparse_orange, SALMON, 1.038, 0.47)
dots(ax, sparse_salmon, TEAL, 1.038, 0.47)
dots(ax, sparse_violet, TEAL, 1.038, 0.47)
for i, (x, y) in enumerate(labels_c):
    ax.text(x, y, str(i), fontsize=17, ha='center', va='center', zorder=6)
for i, name in enumerate(['Noninfected', 'Infected']):
    y = 250.7 + i * 27.9
    ov.plot([1897], [y], 'o', ms=11, color=[TEAL, SALMON][i], mew=0)
    ov.text(1920, y, name, fontsize=15, va='center')
ov.text(1633, 513, 'UMAP_1', fontsize=15, ha='center', va='center')
ov.text(1372, 259, 'UMAP_2', fontsize=15, ha='center', va='center', rotation=90)

# D
ax = px_axes(77.6, 678, 546, 977)
idx = np.array(bar_clusters)
ax.bar(idx - 0.175, noninfected, 0.35, color=TEAL)
ax.bar(idx + 0.175, infected, 0.35, color=SALMON)
ax.set_xlim(-0.68, 9.8)
ax.set_ylim(-1.24, 29.6)
ax.set_xticks(idx)
ax.set_yticks([0, 10, 20])
ax.tick_params(axis='x', labelsize=17, length=3, width=1.2, pad=5)
ax.tick_params(axis='y', labelsize=13, length=2, width=1.2, pad=1)
for s in ('top', 'right'):
    ax.spines[s].set_visible(False)
for s in ('left', 'bottom'):
    ax.spines[s].set_linewidth(1.9)
ov.text(316, 1031, 'Clusters', fontsize=17.5, ha='center', va='center')
ov.text(27, 832, 'Proportion of total fibroblasts', fontsize=16.6, ha='center', va='center', rotation=90)
ov.add_patch(Rectangle((420, 655), 23, 24, fc=TEAL, lw=0))
ov.add_patch(Rectangle((420, 721), 23, 24, fc=SALMON, lw=0))
for txt, y in [('Noninfected',672), ('(2668 cells)',702), ('Infected',738), ('(5082 cells)',768)]:
    ov.text(453, y, txt, fontsize=17.7, va='center')

# E
ax = px_axes(915, 630, 1306, 972)
cmap = LinearSegmentedColormap.from_list('padj', [(0, '#FF0000'), (.27, '#E00F5A'), (.53, '#B000A8'), (.8, '#7A00D0'), (1, '#0000FF')])
norm = Normalize(0.0, 0.0094)
ax.set_xlim(-0.587, 9.57)
ax.set_ylim(9.58, -0.6)
ax.set_axisbelow(True)
ax.grid(True, color='#ebebeb', lw=1.8)
for r in range(10):
    for c in range(10):
        if gene_ratio[r][c] is not None:
            d = 5.5 + 95 * gene_ratio[r][c]
            ax.plot([c], [r], 'o', ms=d * 0.72, mew=0, color=cmap(norm(p_adjust[r][c])), zorder=3)
ax.set_xticks(range(10))
ax.set_xticklabels([])
ax.set_yticks(range(10))
ax.set_yticklabels(go_terms, fontsize=15.4)
ax.tick_params(axis='y', length=2.5, width=1.2, pad=3)
ax.tick_params(axis='x', length=2.5, width=1.2)
for s in ax.spines.values():
    s.set_linewidth(1.2)
    s.set_color('#333333')
ov.text(1118, 609, 'GO terms: cluster markers', fontsize=15.1, ha='center', va='center')
ov.text(905, 986, 'Cluster', fontsize=15.4, ha='right', va='center')
ov.text(905, 1012, '# Genes in cluster', fontsize=15.4, ha='right', va='center')
for c in range(10):
    x = 937.6 + c * 38.5
    ov.text(x, 986, str(c), fontsize=15, ha='center', va='center')
    ov.text(x - 3, 1012, str(genes_in_cluster[c]), fontsize=15, ha='center', va='center')
cax = px_axes(1325, 644, 1355.5, 800)
grad = np.linspace(-0.0002, 0.0094, 20)[:, None]
cax.imshow(grad, aspect='auto', cmap=cmap, norm=norm, extent=(0, 1, 0.0094, -0.0002))
cax.axis('off')
for v in [0.0025, 0.005, 0.0075]:
    cax.plot([0, 0.2], [v, v], color='white', lw=1)
    cax.plot([0.8, 1], [v, v], color='white', lw=1)
    y = 686 + (v - 0.0025) / 0.0025 * 40.6
    ov.text(1366, y, '%.4f' % v, fontsize=14.5, va='center')
cax.set_xlim(0, 1)
cax.set_ylim(0.0094, -0.0002)
ov.text(1325, 624, r'$\mathit{P}$.adjust', fontsize=14.5, va='center')
ov.text(1325, 825, 'GeneRatio', fontsize=14.5, va='center')
for i, r in enumerate(ratio_legend):
    y = 859 + i * 31
    ov.plot([1340], [y], 'o', ms=(5.5 + 95 * r) * 0.72, color='black', mew=0)
    ov.text(1366, y, '%.2f' % r, fontsize=14.5, va='center')

# F
ax = px_axes(1527, 642, 1958, 1065)
style_umap(ax, (-8.73, 7.72), (-6.43, 5.75), [-8, -4, 0, 4], [-6, -3, 0, 3])
cluster_map(ax, labels_f)
for branch in (lineage1, lineage2, lineage3):
    xy = smooth(lineage_stem + branch)
    ax.plot(xy[:, 0], xy[:, 1], color='black', lw=2.2, zorder=5)
for i in range(10):
    y = 754.6 + i * 27.7
    ov.plot([1976], [y], 'o', ms=11, color=HUE[i], mew=0)
    ov.text(1998, y, str(i), fontsize=15, va='center')
ov.text(1752.6, 1104.6, 'UMAP_1', fontsize=15, ha='center', va='center')
ov.text(1480, 849, 'UMAP_2', fontsize=15, ha='center', va='center', rotation=90)
for i, order in enumerate(lineage_orders):
    y = 589 + i * 27
    ov.text(1558.5, y, 'Lineage %d:' % (i + 1), fontsize=17, va='center')
    for k, ch in enumerate(order):
        ov.text(1685 + k * 27.1, y, ch, fontsize=17, ha='center', va='center')
    line_end = 1889 if len(order) == 8 else 1827
    ov.plot([1678, line_end], [[600, 625, 653][i]] * 2, color='#222222', lw=1.3)

# G
violin_row(genes_top, 1212, 1553, 1233, 1532)
violin_row(genes_bottom, 1697, 2037, 1717, 2017)
ov.text(19, 1390, 'Cluster', fontsize=13.5, rotation=90, ha='center', va='center')
ov.text(21, 1867, 'Cluster', fontsize=13.5, rotation=90, ha='center', va='center')
for labels, spans, cols, shifts, t, b in [(strips_top, strips_top_px, strips_top_cols, strips_top_shift, 1156, 1179),
                                          (strips_bottom, strips_bottom_px, HUE[6:], strips_bottom_shift, 1640, 1663)]:
    for lab, (l, r), col, sh in zip(labels, spans, cols, shifts):
        ov.add_patch(Rectangle((l, t), r - l, b - t, fc=col, ec='#555555', lw=1))
        ov.text((l + r) / 2 + sh, (t + b) / 2 + 0.5, lab, fontsize=12.9, ha='center', va='center')

# H
ov.text(1581.6, 1654, 'CCL signaling', fontsize=23, ha='center', va='center')
ov.add_patch(Ellipse((1568, 1720), 19, 36, fc='none', ec='#4DAF4A', alpha=0.6, lw=3.6))
ov.plot([1570, 1576], [1738, 1752], color='#4DAF4A', alpha=0.6, lw=3.6)
ov.add_patch(Ellipse((1801, 1896), 47, 30, fc='#E41A1C', ec='none', alpha=0.6))
for pts, col, width, alpha, arrow in edges:
    xy = smooth(pts)
    ov.plot(xy[:, 0], xy[:, 1], color=col, lw=width * 0.72, alpha=alpha, solid_capstyle='butt')
    if arrow:
        ov.annotate('', xy=xy[-1], xytext=xy[-4],
                    arrowprops=dict(arrowstyle='-|>', color=col, lw=0.8, mutation_scale=9, shrinkA=0, shrinkB=0))
for (x, y), col, d in zip(node_xy, node_cols, node_size):
    ov.plot([x], [y], 'o', ms=d * 0.72, color=col, mew=0)
for name, (x, y) in zip(node_names, node_label_xy):
    ov.text(x, y, name, fontsize=18, ha='center', va='center')
ov.text(1729, 2012, 'Mast', fontsize=18, ha='center', va='center')

fig.savefig('out.png', dpi=100)
